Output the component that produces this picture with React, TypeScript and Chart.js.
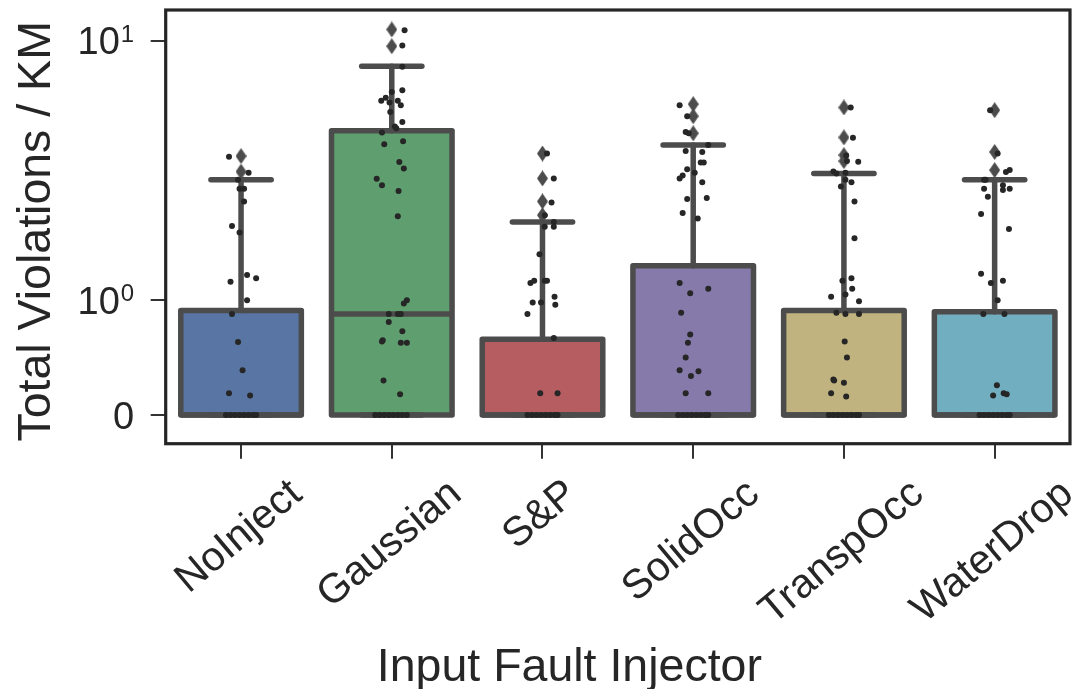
import React, { useEffect, useRef } from 'react';
import { Chart, registerables } from 'chart.js';

Chart.register(...registerables);

// ---------------- data ----------------
const categories = ['NoInject', 'Gaussian', 'S&P', 'SolidOcc', 'TranspOcc', 'WaterDrop'];
const boxColors = ['#5875A4', '#5F9E6E', '#B55D60', '#857AAA', '#C1B37F', '#71AEC0'];

const q1 = [0, 0, 0, 0, 0, 0];
const medians = [0, 0.88, 0, 0, 0, 0];
const q3 = [0.91, 3.67, 0.66, 1.3, 0.91, 0.9];
const whiskerLow = [0, 0, 0, 0, 0, 0];
const whiskerHigh = [2.13, 7.54, 1.68, 3.13, 2.28, 2.13];

const fliersNoInject = [2.77, 2.33];
const fliersGaussian = [11.35, 9.42];
const fliersSP = [2.85, 2.16, 1.86, 1.74];
const fliersSolidOcc = [4.94, 4.32, 3.57];
const fliersTranspOcc = [4.76, 3.41, 2.8, 2.62];
const fliersWaterDrop = [4.62, 2.9, 2.37];

// strip (observation) values and their horizontal jitter, in category units
const stripNoInject = [2.75, 2.3, 2.13, 1.97, 1.97, 1.86, 1.645, 1.59, 1.22, 1.19, 1.16, 1.0, 0.88, 0.635, 0.39, 0.19, 0.17, 0, 0, 0, 0, 0, 0, 0, 0];
const jitterNoInject = [-0.08, 0.05, -0.02, -0.01, 0.02, 0.02, -0.06, -0.01, 0.04, 0.1, -0.07, 0.04, -0.06, -0.02, 0.01, -0.08, 0.06, -0.1, -0.07, -0.04, -0.01, 0.02, 0.05, 0.08, 0.1];

const stripGaussian = [11.26, 9.5, 7.5, 5.77, 5.65, 5.3, 5.13, 5.03, 5.13, 4.88, 4.53, 4.05, 3.85, 3.78, 3.6, 3.27, 3.16, 2.59, 2.41, 2.15, 2.0, 1.95, 1.73, 1.0, 0.97, 0.88, 0.88, 0.88, 0.81, 0.73, 0.65, 0.64, 0.63, 0.63, 0.3, 0.18, 0, 0, 0, 0, 0, 0, 0, 0];
const jitterGaussian = [0.085, 0.07, 0.07, 0.07, 0.0, -0.04, -0.07, -0.015, 0.04, 0.06, -0.01, 0.07, 0.02, 0.03, -0.065, 0.075, -0.05, 0.05, 0.08, -0.1, -0.065, 0.045, 0.04, 0.1, 0.08, -0.02, 0.04, 0.06, -0.02, 0.07, -0.06, -0.065, 0.06, 0.1, -0.055, 0.055, -0.11, -0.08, -0.05, -0.02, 0.01, 0.04, 0.07, 0.1];

const stripSP = [2.85, 2.16, 1.85, 1.74, 1.68, 1.64, 1.64, 1.4, 1.15, 1.17, 1.17, 1.17, 1.03, 0.98, 0.98, 0.96, 0.88, 0.67, 0.19, 0.19, 0, 0, 0, 0, 0, 0, 0, 0];
const jitterSP = [0.03, 0.075, 0.06, 0.015, 0.075, 0.075, 0.015, -0.02, -0.08, -0.055, 0.015, 0.03, 0.08, -0.065, -0.01, 0.085, -0.1, 0.075, -0.015, 0.1, -0.1, -0.07, -0.04, -0.01, 0.02, 0.05, 0.08, 0.1];

const stripSolidOcc = [4.88, 4.32, 3.62, 3.57, 3.13, 2.93, 2.9, 2.58, 2.58, 2.39, 2.3, 2.23, 2.16, 2.07, 1.88, 1.89, 1.76, 1.71, 1.15, 1.06, 1.1, 0.89, 0.7, 0.63, 0.5, 0.39, 0.38, 0.34, 0.19, 0.19, 0, 0, 0, 0, 0, 0, 0, 0];
const jitterSolidOcc = [-0.09, -0.04, -0.05, -0.03, 0.1, -0.05, 0.06, 0.05, 0.07, -0.04, 0.01, -0.07, -0.09, 0.06, -0.04, 0.09, -0.07, 0.03, -0.09, -0.02, 0.1, -0.08, -0.02, -0.035, -0.05, -0.09, 0.035, -0.015, -0.05, 0.1, -0.1, -0.07, -0.04, -0.01, 0.02, 0.05, 0.08, 0.1];

const stripTranspOcc = [4.76, 3.4, 2.79, 2.6, 2.62, 2.33, 2.3, 2.28, 2.13, 2.07, 1.99, 1.86, 1.54, 1.19, 1.17, 1.1, 1.03, 1.05, 0.99, 0.89, 0.88, 0.88, 0.64, 0.5, 0.31, 0.3, 0.28, 0.19, 0.16, 0, 0, 0, 0, 0, 0, 0, 0];
const jitterTranspOcc = [0.045, 0.06, 0.015, 0.095, 0.02, -0.07, 0.01, -0.05, 0.01, 0.05, -0.02, 0.07, 0.07, 0.05, -0.01, 0.055, -0.085, 0.01, 0.1, -0.05, 0.01, 0.1, 0.005, 0.02, -0.07, -0.065, 0, -0.085, 0.015, -0.1, -0.07, -0.04, -0.01, 0.02, 0.05, 0.08, 0.1];

const stripWaterDrop = [4.62, 2.85, 2.37, 2.32, 2.13, 2.13, 2.0, 1.96, 1.97, 1.97, 1.9, 1.75, 1.62, 1.23, 1.15, 1.17, 1.0, 0.88, 0.88, 0.26, 0.17, 0.19, 0.18, 0, 0, 0, 0, 0, 0, 0, 0];
const jitterWaterDrop = [-0.03, 0.02, 0.1, 0.075, -0.06, -0.07, 0.055, 0.055, 0.1, -0.07, -0.045, -0.09, 0.095, -0.09, -0.025, 0.055, 0.02, -0.075, 0.065, 0.015, -0.01, 0.06, 0.08, -0.1, -0.07, -0.04, -0.01, 0.02, 0.05, 0.08, 0.1];

const yTickValues = [0, 1, 10];
const yTickBase = ['0', '10', '10'];
const yTickExp = ['', '0', '1'];
const yMin = -0.25;
const yMax = 14.1;

const xTitle = 'Input Fault Injector';
const yTitle = 'Total Violations / KM';

// symmetric log scale parameters (matplotlib symlog, linthresh 2, linscale 1)
const LINTHRESH = 2;
const LINSCALE = 1;

// ---------------- helpers ----------------
const linscaleAdj = LINSCALE / (1 - 1 / 10);
function symlog(v: number): number {
  const a = Math.abs(v);
  if (a <= LINTHRESH) return v * linscaleAdj;
  return Math.sign(v) * LINTHRESH * (linscaleAdj + Math.log10(a / LINTHRESH));
}

const FONT = '"Liberation Sans", Arial, Helvetica, sans-serif';
const LINE = '#4c4c4c';
const TEXT = '#262626';

export default function App() {
  const ref = useRef<HTMLCanvasElement>(null);

  useEffect(() => {
    document.body.style.margin = '0';
    const canvas = ref.current!;

    const dia = document.createElement('canvas');
    dia.width = 11;
    dia.height = 16;
    const dc = dia.getContext('2d')!;
    dc.fillStyle = LINE;
    dc.beginPath();
    dc.moveTo(5.5, 0);
    dc.lineTo(11, 8);
    dc.lineTo(5.5, 16);
    dc.lineTo(0, 8);
    dc.closePath();
    dc.fill();

    const fliers = [fliersNoInject, fliersGaussian, fliersSP, fliersSolidOcc, fliersTranspOcc, fliersWaterDrop];
    const strips = [stripNoInject, stripGaussian, stripSP, stripSolidOcc, stripTranspOcc, stripWaterDrop];
    const jitters = [jitterNoInject, jitterGaussian, jitterSP, jitterSolidOcc, jitterTranspOcc, jitterWaterDrop];

    const flierData: { x: number; y: number }[] = [];
    fliers.forEach((arr, i) => arr.forEach((v) => flierData.push({ x: i, y: symlog(v) })));
    const stripData: { x: number; y: number }[] = [];
    strips.forEach((arr, i) => arr.forEach((v, k) => stripData.push({ x: i + jitters[i][k], y: symlog(v) })));

    const boxPlugin = {
      id: 'boxStrokes',
      afterDatasetDraw(chart: any, args: any) {
        if (args.index !== 0) return;
        const { ctx } = chart;
        const xs = chart.scales.x;
        const ys = chart.scales.y;
        ctx.save();
        ctx.strokeStyle = LINE;
        ctx.lineWidth = 5.5;
        ctx.lineJoin = 'round';
        ctx.lineCap = 'round';
        categories.forEach((_, i) => {
          const xl = xs.getPixelForValue(i - 0.4);
          const xr = xs.getPixelForValue(i + 0.4);
          const xc = xs.getPixelForValue(i);
          const cl = xs.getPixelForValue(i - 0.2);
          const cr = xs.getPixelForValue(i + 0.2);
          const yq1 = ys.getPixelForValue(symlog(q1[i]));
          const yq3 = ys.getPixelForValue(symlog(q3[i]));
          const ymed = ys.getPixelForValue(symlog(medians[i]));
          const ywh = ys.getPixelForValue(symlog(whiskerHigh[i]));
          const ywl = ys.getPixelForValue(symlog(whiskerLow[i]));
          // whiskers
          ctx.beginPath();
          ctx.moveTo(xc, yq3);
          ctx.lineTo(xc, ywh);
          ctx.moveTo(xc, yq1);
          ctx.lineTo(xc, ywl);
          ctx.stroke();
          // caps
          ctx.beginPath();
          ctx.moveTo(cl, ywh);
          ctx.lineTo(cr, ywh);
          ctx.moveTo(cl, ywl);
          ctx.lineTo(cr, ywl);
          ctx.stroke();
          // box outline
          ctx.beginPath();
          ctx.rect(xl, yq3, xr - xl, yq1 - yq3);
          ctx.stroke();
          // median
          ctx.beginPath();
          ctx.lineCap = 'butt';
          ctx.moveTo(xl, ymed);
          ctx.lineTo(xr, ymed);
          ctx.stroke();
          ctx.lineCap = 'round';
        });
        ctx.restore();
      },
    };

    const textPlugin = {
      id: 'texts',
      afterDraw(chart: any) {
        const { ctx, chartArea } = chart;
        const xs = chart.scales.x;
        const ys = chart.scales.y;
        ctx.save();
        // frame
        ctx.strokeStyle = TEXT;
        ctx.lineWidth = 3.2;
        ctx.strokeRect(chartArea.left, chartArea.top, chartArea.right - chartArea.left, chartArea.bottom - chartArea.top);

        ctx.fillStyle = TEXT;
        // y tick labels
        const xRight = chartArea.left - 31.5;
        yTickValues.forEach((v, k) => {
          const y = ys.getPixelForValue(symlog(v));
          ctx.font = `24px ${FONT}`;
          const supW = yTickExp[k] ? ctx.measureText(yTickExp[k]).width : 0;
          if (yTickExp[k]) {
            ctx.textAlign = 'left';
            ctx.textBaseline = 'alphabetic';
            ctx.fillText(yTickExp[k], xRight - supW, y + 1);
          }
          ctx.font = `38px ${FONT}`;
          ctx.textAlign = 'right';
          ctx.textBaseline = 'alphabetic';
          ctx.fillText(yTickBase[k], xRight - supW - (supW ? 1 : 0), y + 13.6);
        });

        // x tick labels, rotated 40 degrees, centred on the tick
        ctx.font = `41px ${FONT}`;
        const ang = (40 * Math.PI) / 180;
        const H = 47;
        categories.forEach((lab, i) => {
          const cx = xs.getPixelForValue(i) - 2;
          const W = ctx.measureText(lab).width;
          const bh = W * Math.sin(ang) + H * Math.cos(ang);
          const cy = chartArea.bottom + 27 + bh / 2;
          ctx.save();
          ctx.translate(cx, cy);
          ctx.rotate(-ang);
          ctx.textAlign = 'center';
          ctx.textBaseline = 'middle';
          ctx.fillText(lab, 0, 0);
          ctx.restore();
        });

        // axis titles
        ctx.font = `46.5px ${FONT}`;
        ctx.textAlign = 'center';
        ctx.textBaseline = 'alphabetic';
        ctx.fillText(xTitle, (chartArea.left + chartArea.right) / 2 - 48.5, 681);

        ctx.save();
        ctx.translate(50, (chartArea.top + chartArea.bottom) / 2 + 4.5);
        ctx.rotate(-Math.PI / 2);
        ctx.fillText(yTitle, 0, 0);
        ctx.restore();

        ctx.restore();
      },
    };

    const chart = new Chart(canvas, {
      type: 'bar',
      data: {
        datasets: [
          {
            type: 'bar',
            label: 'box',
            order: 3,
            data: categories.map((_, i) => ({ x: i, y: [symlog(q1[i]), symlog(q3[i])] })) as any,
            backgroundColor: boxColors,
            borderWidth: 0,
            barPercentage: 0.8,
            categoryPercentage: 1,
          },
          {
            type: 'scatter',
            label: 'fliers',
            order: 2,
            data: flierData,
            pointStyle: dia as any,
            pointRadius: 6,
          },
          {
            type: 'scatter',
            label: 'observations',
            order: 1,
            data: stripData,
            pointRadius: 3,
            pointBackgroundColor: '#262626',
            pointBorderWidth: 0,
            borderWidth: 0,
          },
        ] as any,
      },
      options: {
        animation: false,
        responsive: false,
        maintainAspectRatio: false,
        devicePixelRatio: 1,
        layout: { padding: { left: 0, right: 12, top: 10, bottom: 0 } },
        plugins: { legend: { display: false }, tooltip: { enabled: false } },
        scales: {
          x: {
            type: 'linear',
            min: -0.5,
            max: 5.5,
            offset: false,
            afterBuildTicks: (scale: any) => {
              scale.ticks = categories.map((_, i) => ({ value: i }));
            },
            afterFit: (scale: any) => {
              scale.height = 689 - 443.7;
            },
            ticks: { display: false },
            grid: { offset: false, drawOnChartArea: false, drawTicks: true, tickLength: 15, color: '#333333', lineWidth: 2 },
            border: { display: false },
          },
          y: {
            type: 'linear',
            min: symlog(yMin),
            max: symlog(yMax),
            afterBuildTicks: (scale: any) => {
              scale.ticks = yTickValues.map((v) => ({ value: symlog(v) }));
            },
            afterFit: (scale: any) => {
              scale.width = 165.7;
            },
            ticks: { display: false },
            grid: { offset: false, drawOnChartArea: false, drawTicks: true, tickLength: 15, color: '#333333', lineWidth: 2 },
            border: { display: false },
          },
        },
      } as any,
      plugins: [boxPlugin, textPlugin],
    });

    return () => chart.destroy();
  }, []);

  return (
    <div style={{ width: 1082, height: 689, background: '#ffffff' }}>
      <canvas ref={ref} width={1082} height={689} style={{ display: 'block' }} />
    </div>
  );
}
